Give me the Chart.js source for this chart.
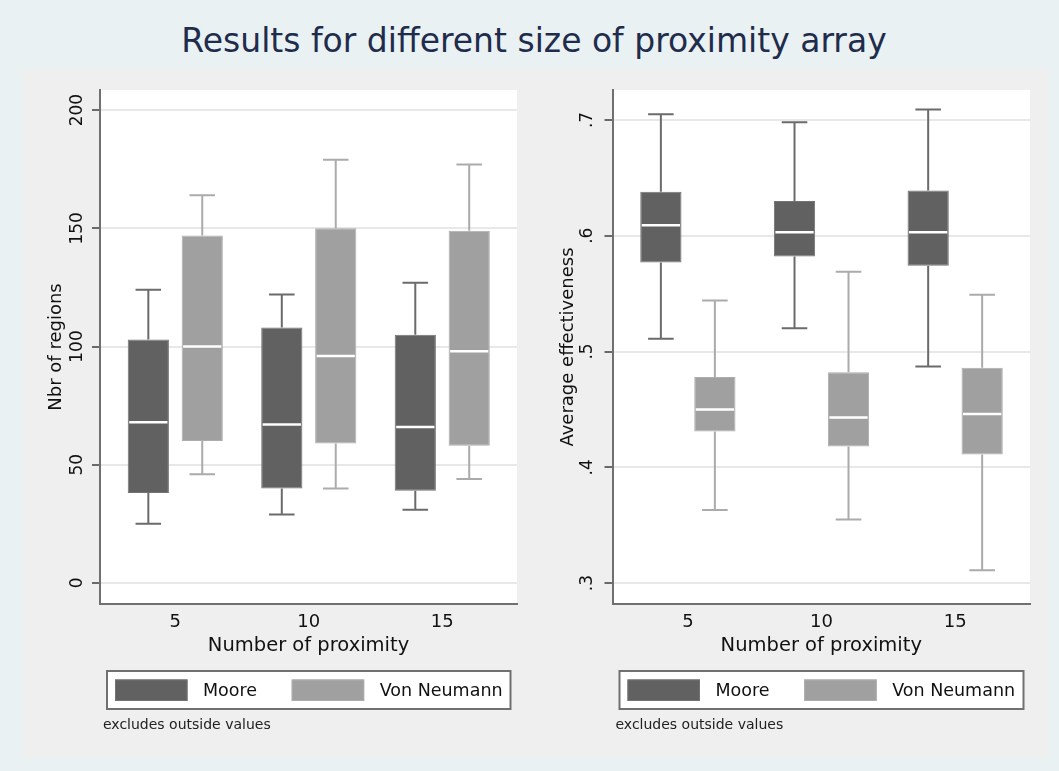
<!DOCTYPE html>
<html>
<head>
<meta charset="utf-8">
<title>Results for different size of proximity array</title>
<script src="https://cdn.jsdelivr.net/npm/chart.js@4.4.0/dist/chart.umd.min.js"></script>
<style>
    body {
        margin: 0;
        width: 1059px;
        height: 771px;
        position: relative;
        overflow: hidden;
        background: #e9f1f3;
        font-family: 'DejaVu Sans', sans-serif;
    }
    #title {
        position: absolute;
        left: 0;
        top: 24px;
        width: 1068px;
        text-align: center;
        font-size: 33px;
        line-height: 33px;
        color: #1f2c4c;
    }
    #panel {
        position: absolute;
        left: 23px;
        top: 69px;
        width: 1025px;
        height: 689px;
        background: #efefef;
    }
    #panel canvas {
        position: absolute;
        top: 0;
    }
    #regionsChart { left: 0; }
    #effectChart { left: 512px; }
</style>
</head>
<body>
<div id="title">Results for different size of proximity array</div>
<div id="panel">
    <canvas id="regionsChart" width="512" height="689"></canvas>
    <canvas id="effectChart" width="513" height="689"></canvas>
</div>
<script>
/* ==========================================
   BOX PLOTS - PROXIMITY ARRAY SIZE
   ========================================== */

const proximity = [5, 10, 15];
const seriesNames = ['Moore', 'Von Neumann'];
const xTitle = 'Number of proximity';
const noteText = 'excludes outside values';

// Nbr of regions (left panel)
const regionTicks = [0, 50, 100, 150, 200];
const mooreRegLow = [25, 29, 31];
const mooreRegQ1 = [38, 40, 39];
const mooreRegMed = [68, 67, 66];
const mooreRegQ3 = [103, 108, 105];
const mooreRegHigh = [124, 122, 127];
const vnRegLow = [46, 40, 44];
const vnRegQ1 = [60, 59, 58];
const vnRegMed = [100, 96, 98];
const vnRegQ3 = [147, 150, 149];
const vnRegHigh = [164, 179, 177];

// Average effectiveness (right panel)
const effectTicks = [0.3, 0.4, 0.5, 0.6, 0.7];
const mooreEffLow = [0.511, 0.520, 0.487];
const mooreEffQ1 = [0.577, 0.582, 0.574];
const mooreEffMed = [0.609, 0.603, 0.603];
const mooreEffQ3 = [0.638, 0.630, 0.639];
const mooreEffHigh = [0.705, 0.698, 0.709];
const vnEffLow = [0.363, 0.355, 0.311];
const vnEffQ1 = [0.431, 0.418, 0.411];
const vnEffMed = [0.450, 0.443, 0.446];
const vnEffQ3 = [0.478, 0.482, 0.486];
const vnEffHigh = [0.544, 0.569, 0.549];

const FONT = 'DejaVu Sans';
const INK = '#111111';

function boxDataset(label, low, q1, med, q3, high, fill, edge, whisker) {
    return {
        label: label,
        data: proximity.map((x, i) => ({ x: x, y: [q1[i], q3[i]] })),
        low: low,
        median: med,
        high: high,
        whiskerColor: whisker,
        backgroundColor: fill,
        borderColor: edge,
        borderWidth: 1,
        borderSkipped: false,
        categoryPercentage: 0.808,
        barPercentage: 0.764
    };
}

// whiskers under the boxes, medians on top
const boxWhiskers = {
    id: 'boxWhiskers',
    beforeDatasetsDraw(chart) {
        const { ctx } = chart;
        const y = chart.scales.y;
        chart.data.datasets.forEach((ds, i) => {
            chart.getDatasetMeta(i).data.forEach((bar, j) => {
                const half = bar.width * 0.31;
                const yLo = y.getPixelForValue(ds.low[j]);
                const yHi = y.getPixelForValue(ds.high[j]);
                const yQ1 = y.getPixelForValue(ds.data[j].y[0]);
                const yQ3 = y.getPixelForValue(ds.data[j].y[1]);
                ctx.save();
                ctx.strokeStyle = ds.whiskerColor;
                ctx.lineWidth = 2;
                ctx.beginPath();
                ctx.moveTo(bar.x, yQ3);
                ctx.lineTo(bar.x, yHi);
                ctx.moveTo(bar.x, yQ1);
                ctx.lineTo(bar.x, yLo);
                ctx.moveTo(bar.x - half, yHi);
                ctx.lineTo(bar.x + half, yHi);
                ctx.moveTo(bar.x - half, yLo);
                ctx.lineTo(bar.x + half, yLo);
                ctx.stroke();
                ctx.restore();
            });
        });
    },
    afterDatasetsDraw(chart) {
        const { ctx } = chart;
        const y = chart.scales.y;
        chart.data.datasets.forEach((ds, i) => {
            chart.getDatasetMeta(i).data.forEach((bar, j) => {
                const ym = y.getPixelForValue(ds.median[j]);
                ctx.save();
                ctx.strokeStyle = '#ffffff';
                ctx.lineWidth = 2.5;
                ctx.beginPath();
                ctx.moveTo(bar.x - bar.width / 2 + 1.5, ym);
                ctx.lineTo(bar.x + bar.width / 2 - 1.5, ym);
                ctx.stroke();
                ctx.restore();
            });
        });
    }
};

// white plot region
const plotBackground = {
    id: 'plotBackground',
    beforeDraw(chart) {
        const { ctx, chartArea: a } = chart;
        ctx.save();
        ctx.fillStyle = '#ffffff';
        ctx.fillRect(a.left, a.top, a.right - a.left, a.bottom - a.top);
        ctx.restore();
    }
};

// Stata style framed legend + note
const boxLegend = {
    id: 'boxLegend',
    afterDraw(chart) {
        const { ctx, chartArea: a } = chart;
        const top = a.bottom + 67;
        ctx.save();
        ctx.fillStyle = '#ffffff';
        ctx.fillRect(a.left + 7, top, a.right - a.left - 13.5, 38);
        ctx.strokeStyle = '#707070';
        ctx.lineWidth = 2;
        ctx.strokeRect(a.left + 7, top, a.right - a.left - 13.5, 38);

        chart.data.datasets.forEach((ds, i) => {
            const sx = a.left + 15 + i * 176.7;
            ctx.fillStyle = ds.backgroundColor;
            ctx.fillRect(sx, top + 8.5, 72.5, 21.5);
            ctx.strokeStyle = ds.borderColor;
            ctx.lineWidth = 1;
            ctx.strokeRect(sx + 0.5, top + 9, 71.5, 20.5);
            ctx.fillStyle = INK;
            ctx.font = '17.5px "' + FONT + '"';
            ctx.textBaseline = 'middle';
            ctx.textAlign = 'left';
            ctx.fillText(ds.label, sx + 88, top + 20);
        });

        ctx.font = '14px "' + FONT + '"';
        ctx.fillStyle = '#222222';
        ctx.textBaseline = 'middle';
        ctx.fillText(noteText, a.left + 3, a.bottom + 121);
        ctx.restore();
    }
};

function buildPanel(canvasId, cfg) {
    return new Chart(document.getElementById(canvasId), {
        type: 'bar',
        data: {
            datasets: [
                boxDataset(seriesNames[0], cfg.moore[0], cfg.moore[1], cfg.moore[2], cfg.moore[3], cfg.moore[4],
                    '#616161', '#737373', '#6b6b6b'),
                boxDataset(seriesNames[1], cfg.vn[0], cfg.vn[1], cfg.vn[2], cfg.vn[3], cfg.vn[4],
                    '#a0a0a0', '#adadad', '#ababab')
            ]
        },
        options: {
            responsive: false,
            animation: false,
            layout: {
                padding: { left: 0, top: 21, right: 18, bottom: 100 }
            },
            plugins: {
                legend: { display: false },
                tooltip: { enabled: false }
            },
            scales: {
                x: {
                    type: 'linear',
                    offset: false,
                    min: 2.18,
                    max: 17.8,
                    afterBuildTicks: function (scale) {
                        scale.ticks = proximity.map(v => ({ value: v }));
                    },
                    afterFit: function (scale) {
                        scale.height = 54;
                    },
                    grid: { display: false, drawTicks: false, offset: false },
                    border: { display: true, color: '#707070', width: 2 },
                    ticks: {
                        padding: 8,
                        color: INK,
                        font: { family: FONT, size: 18 }
                    },
                    title: {
                        display: true,
                        text: xTitle,
                        color: INK,
                        padding: { top: 0, bottom: 0 },
                        font: { family: FONT, size: 19.5 }
                    }
                },
                y: {
                    min: cfg.min,
                    max: cfg.max,
                    afterBuildTicks: function (scale) {
                        scale.ticks = cfg.ticks.map(v => ({ value: v }));
                    },
                    afterFit: function (scale) {
                        scale.width = cfg.axisWidth;
                    },
                    grid: {
                        color: '#e8e8e8',
                        lineWidth: 2,
                        tickColor: '#6a6a6a',
                        tickWidth: 2,
                        tickLength: 8
                    },
                    border: { display: true, color: '#707070', width: 2 },
                    ticks: {
                        minRotation: 90,
                        maxRotation: 90,
                        crossAlign: 'center',
                        padding: cfg.tickPad,
                        color: INK,
                        font: { family: FONT, size: 17 },
                        callback: cfg.format
                    },
                    title: {
                        display: true,
                        text: cfg.title,
                        color: INK,
                        padding: { top: 23, bottom: 0 },
                        font: { family: FONT, size: 18 }
                    }
                }
            }
        },
        plugins: [plotBackground, boxWhiskers, boxLegend]
    });
}

buildPanel('regionsChart', {
    title: 'Nbr of regions',
    min: -8.9,
    max: 208.5,
    ticks: regionTicks,
    axisWidth: 77,
    tickPad: -2,
    format: v => String(v),
    moore: [mooreRegLow, mooreRegQ1, mooreRegMed, mooreRegQ3, mooreRegHigh],
    vn: [vnRegLow, vnRegQ1, vnRegMed, vnRegQ3, vnRegHigh]
});

buildPanel('effectChart', {
    title: 'Average effectiveness',
    min: 0.2819,
    max: 0.7259,
    ticks: effectTicks,
    axisWidth: 77.5,
    tickPad: 9,
    format: v => Number(v).toFixed(1).replace(/^0/, ''),
    moore: [mooreEffLow, mooreEffQ1, mooreEffMed, mooreEffQ3, mooreEffHigh],
    vn: [vnEffLow, vnEffQ1, vnEffMed, vnEffQ3, vnEffHigh]
});
</script>
</body>
</html>
